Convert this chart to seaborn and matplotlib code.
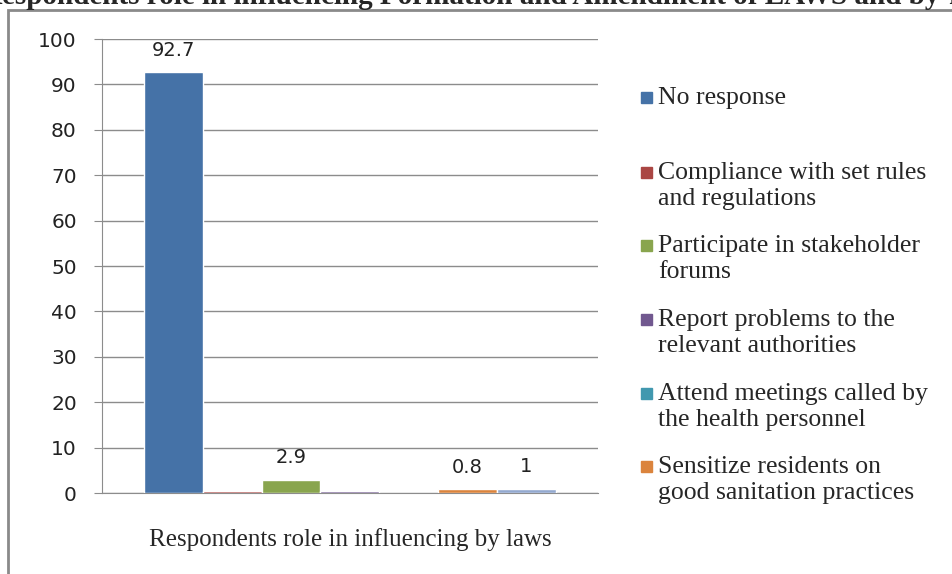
import matplotlib.pyplot as plt
import seaborn as sns
import pandas as pd
from matplotlib.patches import Rectangle

sns.set_style("white")

# values
group = "Respondents role in influencing by laws"
responses = [
    "No response",
    "Compliance with set rules\nand regulations",
    "Participate in stakeholder\nforums",
    "Report problems to the\nrelevant authorities",
    "Attend meetings called by\nthe health personnel",
    "Sensitize residents on\ngood sanitation practices",
    "Other",
]
shares = [92.7, 0.4, 2.9, 0.4, 0.0, 0.8, 1.0]
value_labels = ["92.7", "", "2.9", "", "", "0.8", "1"]
colors = ["#4572A7", "#AA4643", "#89A54E", "#71588F", "#4198AF", "#DB843D", "#93A9CF"]
yticks = [0, 10, 20, 30, 40, 50, 60, 70, 80, 90, 100]

df = pd.DataFrame({"group": [group] * len(responses), "response": responses, "share": shares})

serif = ["Liberation Serif", "DejaVu Serif"]
grey = "#8c8c8c"

fig = plt.figure(figsize=(9.52, 5.74), dpi=100)
ax = fig.add_axes([0.107, 0.141, 0.521, 0.791])

sns.barplot(data=df, x="group", y="share", hue="response", palette=colors,
            saturation=1, width=0.83, gap=0, legend=False, ax=ax, zorder=3)

for cont, lab in zip(ax.containers, value_labels):
    if lab:
        ax.bar_label(cont, labels=[lab], padding=9, fontsize=14, color="#222222")

ax.set_ylim(0, 100)
ax.set_yticks(yticks)
ax.set_xlim(-0.5, 0.5)
ax.yaxis.grid(True, color=grey, lw=1, zorder=0)
ax.set_axisbelow(True)
ax.set_xlabel("")
ax.set_ylabel("")
for side in ["top", "right"]:
    ax.spines[side].set_visible(False)
for side in ["left", "bottom"]:
    ax.spines[side].set_color(grey)
    ax.spines[side].set_zorder(1)
ax.tick_params(axis="y", length=6, color=grey, labelsize=14.5, labelcolor="#222222", pad=12, left=True)
ax.tick_params(axis="x", length=0, pad=25)
for t in ax.get_xticklabels():
    t.set_fontfamily(serif)
    t.set_fontsize(18)

# legend drawn by hand so the swatch sits on the first line like the original
legend_y = [97, 172, 245, 319, 393, 466]
for name, col, y in zip(responses[:6], colors[:6], legend_y):
    fig.patches.append(Rectangle((641 / 952, 1 - (y + 6) / 574), 11 / 952, 11 / 574,
                                 transform=fig.transFigure, color=col))
    fig.text(658 / 952, 1 - (y - 10) / 574, name, va="top", ha="left", family=serif,
             fontsize=18.5, linespacing=1.22, transform=fig.transFigure)

# outer chart frame, clipped at the right and bottom edges
fig.patches.append(Rectangle((8 / 952, -0.05), 1.0, 1 - 10 / 574 + 0.05, transform=fig.transFigure,
                             fill=False, edgecolor="#8a8a8a", lw=2))

# title, cut off at the top of the picture
fig.text(-0.02, 1 - 4 / 574, "Respondents role in influencing Formation and Amendment of LAWS and by-laws",
         ha="left", va="baseline", family=serif, fontweight="bold", fontsize=21)

fig.savefig("out.png", dpi=100)
